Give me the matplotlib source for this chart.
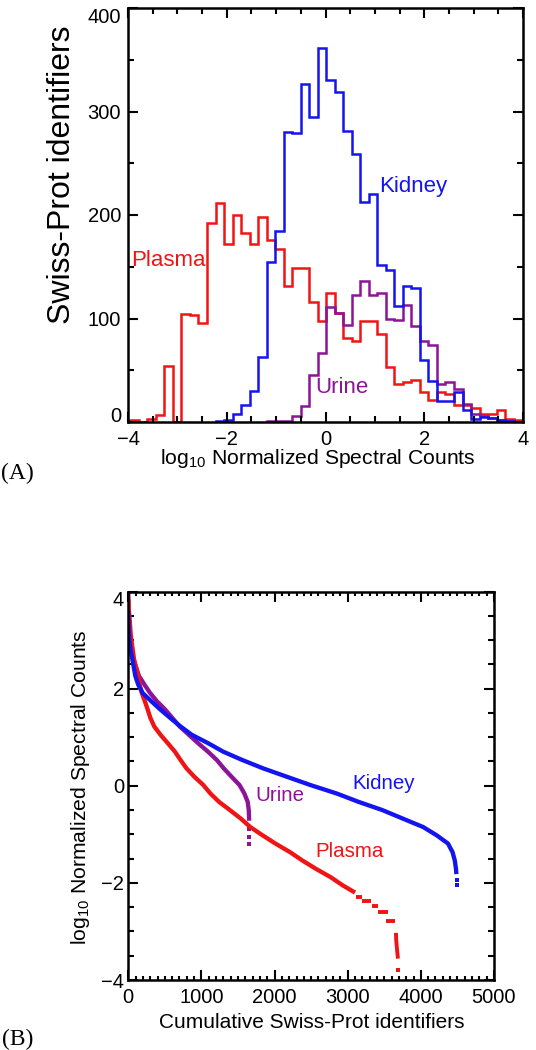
import numpy as np
import matplotlib
matplotlib.use('Agg')
import matplotlib.pyplot as plt
from matplotlib.ticker import MultipleLocator

plt.rcParams['font.family'] = ['Liberation Sans', 'DejaVu Sans']
plt.rcParams['mathtext.fontset'] = 'custom'
plt.rcParams['mathtext.rm'] = 'Liberation Sans'

# ---------------- Panel (A): histograms ----------------
bin_width = 0.1725          # log10 units
edge_offset = 0.015

plasma_first_bin = -23
plasma_counts = [2, 0, 3, 7, 54, 0, 104, 103, 96, 192, 212, 172, 200, 183,
                 172, 198, 176, 167, 131, 149, 149, 116, 98, 125, 105, 81,
                 78, 98, 98, 85, 53, 37, 39, 41, 29, 21, 29, 27, 16, 16, 14,
                 8, 8, 12, 3, 2]

kidney_first_bin = -13
kidney_counts = [1, 2, 8, 16, 30, 63, 155, 185, 280, 279, 327, 295, 361, 330,
                 319, 281, 259, 213, 220, 152, 147, 112, 131, 129, 60, 40, 20,
                 20, 29, 12, 3, 5, 4, 2, 1]

urine_first_bin = -7
urine_counts = [1, 1, 1, 6, 15, 45, 67, 111, 105, 94, 123, 136, 123, 125, 100,
                99, 113, 93, 78, 74, 37, 39, 32, 17, 8, 6, 4, 2, 1]

# ---------------- Panel (B): rank curves ----------------
kidney_rank = [0, 5, 15, 30, 56, 96, 136, 196, 300, 430, 570, 715, 867, 1087,
               1300, 1559, 1840, 2159, 2489, 2850, 3145, 3472, 3751, 4031,
               4216, 4371, 4434, 4464, 4480, 4486]
kidney_value = [3.6, 3.3, 3.0, 2.8, 2.6, 2.26, 2.08, 1.91, 1.76, 1.58, 1.40,
                1.22, 1.05, 0.88, 0.70, 0.53, 0.36, 0.19, 0.015, -0.16, -0.33,
                -0.50, -0.675, -0.85, -1.02, -1.19, -1.37, -1.54, -1.71, -1.82]
kidney_tail_rank = [4489, 4491]
kidney_tail_value = [-1.95, -2.05]

urine_rank = [0, 3, 7, 13, 21, 38, 70, 109, 146, 220, 298, 391, 504, 603, 703,
              828, 951, 1087, 1210, 1304, 1409, 1520, 1587, 1632, 1647, 1653]
urine_value = [3.98, 3.7, 3.45, 3.2, 2.95, 2.78, 2.6, 2.43, 2.26, 2.085, 1.91,
               1.74, 1.57, 1.395, 1.22, 1.05, 0.88, 0.705, 0.53, 0.36, 0.19,
               0.015, -0.16, -0.33, -0.5, -0.72]
urine_tail_rank = [1655, 1655, 1656]
urine_tail_value = [-0.9, -1.05, -1.2]

plasma_rank = [0, 2, 5, 17, 25, 33, 47, 63, 79, 106, 135, 156, 185, 226, 265,
               302, 355, 440, 538, 636, 714, 795, 900, 1025, 1123, 1239, 1388,
               1537, 1668, 1835, 2011, 2209, 2381, 2564, 2764, 2936, 3100]
plasma_value = [3.85, 3.81, 3.64, 3.465, 3.29, 3.12, 2.95, 2.775, 2.60, 2.43,
                2.26, 2.085, 1.91, 1.74, 1.57, 1.395, 1.22, 1.05, 0.88, 0.705,
                0.53, 0.36, 0.19, 0.015, -0.16, -0.33, -0.5, -0.675, -0.85,
                -1.02, -1.19, -1.365, -1.54, -1.71, -1.88, -2.055, -2.2]
plasma_step_value = [-2.3, -2.37, -2.48, -2.61, -2.79]
plasma_step_start = [3110, 3200, 3330, 3420, 3530]
plasma_step_end = [3190, 3320, 3420, 3550, 3650]
plasma_tail_rank = [3660, 3662, 3665, 3670, 3676, 3684]
plasma_tail_value = [-3.07, -3.15, -3.22, -3.30, -3.40, -3.52]
plasma_last_rank = [3690]
plasma_last_value = [-3.8]

RED = '#f01414'
BLUE = '#1414f0'
PURPLE = '#8c1496'

FS_TICK = 14.5
FS_LABEL = 15.2
W, H = 536, 1050
fig = plt.figure(figsize=(W / 100, H / 100), dpi=100)


def frac(x0, y0, x1, y1):
    return [x0 / W, 1 - y1 / H, (x1 - x0) / W, (y1 - y0) / H]


def style_axes(ax):
    for s in ax.spines.values():
        s.set_linewidth(1.8)
    ax.tick_params(which='both', direction='in', top=True, right=True,
                   labelsize=FS_TICK, width=1.5)
    ax.tick_params(which='major', length=7)
    ax.tick_params(which='minor', length=4)


def edges(first, counts):
    return edge_offset + bin_width * np.arange(first, first + len(counts) + 1)


# ---- Panel A ----
axA = fig.add_axes(frac(128, 8, 523, 422))
axA.stairs(plasma_counts, edges(plasma_first_bin, plasma_counts), color=RED,
           lw=1.8, baseline=0)
axA.stairs(urine_counts, edges(urine_first_bin, urine_counts), color=PURPLE,
           lw=1.8, baseline=0)
axA.stairs(kidney_counts, edges(kidney_first_bin, kidney_counts), color=BLUE,
           lw=1.8, baseline=0)
axA.set_xlim(-4, 4)
axA.set_ylim(0, 400)
axA.set_xticks([-4, -2, 0, 2, 4])
axA.xaxis.set_minor_locator(MultipleLocator(0.5))
axA.set_yticks([0, 100, 200, 300, 400])
axA.yaxis.set_minor_locator(MultipleLocator(50))
style_axes(axA)
axA.tick_params(axis='x', pad=6)
axA.tick_params(axis='y', pad=5)
yl = axA.get_yticklabels()
yl[0].set_va('baseline')
yl[-1].set_va('top')

axA.text(-3.93, 156, 'Plasma', color=RED, fontsize=16, ha='left', va='center')
axA.text(1.09, 228, 'Kidney', color=BLUE, fontsize=16, ha='left', va='center')
axA.text(-0.2, 33, 'Urine', color=PURPLE, fontsize=16, ha='left', va='center')

fig.text(62 / W, 1 - 175 / H, 'Swiss-Prot identifiers', rotation=90,
         ha='center', va='center', fontsize=23)
fig.text(318 / W, 1 - 459 / H, r'log$_{\mathregular{10}}$ Normalized Spectral Counts',
         ha='center', va='center', fontsize=FS_LABEL)
fig.text(17 / W, 1 - 473 / H, '(A)', family=['Liberation Serif'],
         ha='center', va='center', fontsize=17)

# ---- Panel B ----
axB = fig.add_axes(frac(128.3, 591.5, 494, 980))
axB.plot(urine_rank, urine_value, color=PURPLE, lw=3.1, solid_capstyle='butt')
axB.plot(urine_tail_rank, urine_tail_value, 's', color=PURPLE, ms=2.5, mew=0)
axB.plot(plasma_rank, plasma_value, color=RED, lw=3.1, solid_capstyle='butt')
axB.hlines(plasma_step_value, plasma_step_start, plasma_step_end, color=RED,
           lw=2.8)
axB.plot(plasma_tail_rank, plasma_tail_value, color=RED, lw=2.8)
axB.plot(plasma_last_rank, plasma_last_value, 's', color=RED, ms=2.5, mew=0)
axB.plot(kidney_rank, kidney_value, color=BLUE, lw=3.1, solid_capstyle='butt')
axB.plot(kidney_tail_rank, kidney_tail_value, 's', color=BLUE, ms=3, mew=0)

axB.set_xlim(0, 5000)
axB.set_ylim(-4, 4)
axB.set_xticks([0, 1000, 2000, 3000, 4000, 5000])
axB.xaxis.set_minor_locator(MultipleLocator(100))
axB.set_yticks([-4, -2, 0, 2, 4])
axB.yaxis.set_minor_locator(MultipleLocator(0.5))
style_axes(axB)
axB.tick_params(axis='x', which='minor', length=3)
axB.tick_params(axis='x', pad=6)
axB.tick_params(axis='y', pad=3)
yl = axB.get_yticklabels()
yl[-1].set_va('top')

axB.text(1731, -0.21, 'Urine', color=PURPLE, fontsize=14.8, ha='left', va='center')
axB.text(3065, 0.04, 'Kidney', color=BLUE, fontsize=14.8, ha='left', va='center')
axB.text(2551, -1.36, 'Plasma', color=RED, fontsize=14.8, ha='left', va='center')

fig.text(81 / W, 1 - 787 / H, r'log$_{\mathregular{10}}$ Normalized Spectral Counts',
         rotation=90, ha='center', va='center', fontsize=FS_LABEL)
fig.text(312 / W, 1 - 1023 / H, 'Cumulative Swiss-Prot identifiers',
         ha='center', va='center', fontsize=15.0)
fig.text(18 / W, 1 - 1039 / H, '(B)', family=['Liberation Serif'],
         ha='center', va='center', fontsize=17)

fig.savefig('out.png', dpi=100)
